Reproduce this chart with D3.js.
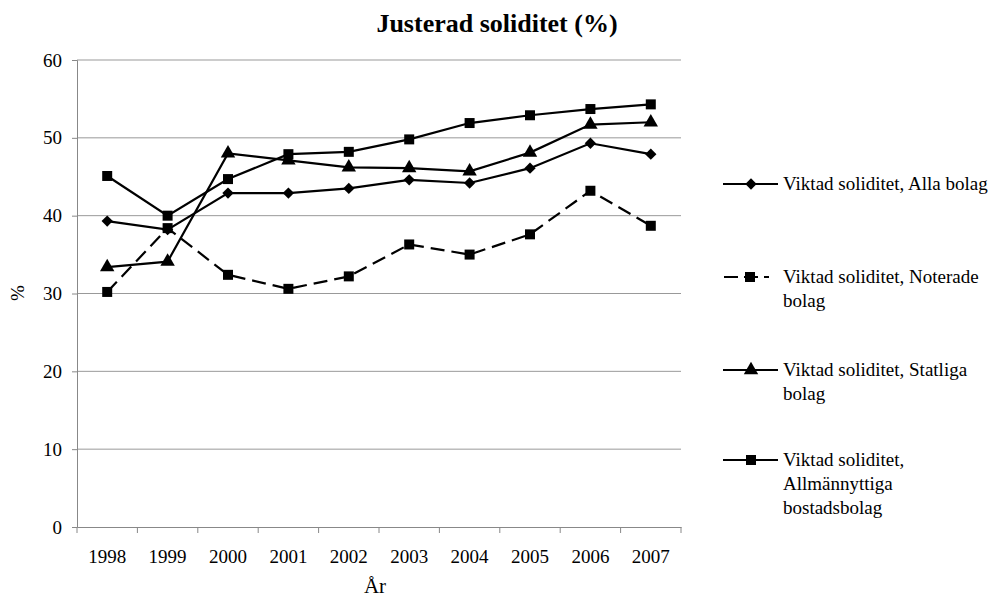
<!DOCTYPE html>
<meta charset="utf-8">
<style>
body { margin: 0; background: #fff; }
svg text { font-family: "Liberation Serif", Tinos, "Times New Roman", Times, serif !important; fill: #000; }
.grid line { stroke: #999; stroke-width: 1; }
.axis path, .axis line { stroke: #888; }
</style>
<body>
<script src="https://d3js.org/d3.v7.min.js"></script>
<script>

// data
var years = ["1998","1999","2000","2001","2002","2003","2004","2005","2006","2007"];
var alla      = [39.3, 38.2, 42.9, 42.9, 43.5, 44.6, 44.2, 46.1, 49.3, 47.9];
var noterade  = [30.2, 38.4, 32.4, 30.6, 32.2, 36.3, 35.0, 37.6, 43.2, 38.7];
var statliga  = [33.4, 34.1, 48.0, 47.1, 46.2, 46.1, 45.7, 48.1, 51.7, 52.0];
var allmanna  = [45.1, 40.0, 44.7, 47.9, 48.2, 49.8, 51.9, 52.9, 53.7, 54.3];
var yTicks = [0, 10, 20, 30, 40, 50, 60];

var series = [
  {name: ["Viktad soliditet, Alla bolag"], values: alla, symbol: "diamond", dash: null, ly: 184},
  {name: ["Viktad soliditet, Noterade", "bolag"], values: noterade, symbol: "square", dash: "14,7", ly: 277},
  {name: ["Viktad soliditet, Statliga", "bolag"], values: statliga, symbol: "triangle", dash: null, ly: 370},
  {name: ["Viktad soliditet,", "Allmännyttiga", "bostadsbolag"], values: allmanna, symbol: "square", dash: null, ly: 460}
];

var margin = {top: 60, right: 310, bottom: 70, left: 77},
    width = 991 - margin.left - margin.right,
    height = 597 - margin.top - margin.bottom;

var svg = d3.select("body").append("svg")
    .attr("width", 991)
    .attr("height", 597);

var g = svg.append("g")
    .attr("transform", "translate(" + margin.left + "," + margin.top + ")");

var x = d3.scaleBand().domain(years).range([0, width]);
var y = d3.scaleLinear().domain([0, 60]).range([height, 0]);

// gridlines
g.append("g").attr("class", "grid")
  .selectAll("line").data(yTicks.filter(function(d) { return d > 0; }))
  .enter().append("line")
    .attr("x1", 0).attr("x2", width)
    .attr("y1", function(d) { return y(d); })
    .attr("y2", function(d) { return y(d); });

// y axis
var yAxis = g.append("g").attr("class", "axis")
  .call(d3.axisLeft(y).tickValues(yTicks).tickSize(5).tickPadding(10));
yAxis.selectAll("text").style("font-size", "19px");

// x axis, ticks between categories
var xAxis = g.append("g").attr("class", "axis")
  .attr("transform", "translate(0," + height + ")")
  .call(d3.axisBottom(x).tickSize(0).tickPadding(23));
xAxis.selectAll("text").style("font-size", "19px");
xAxis.selectAll(".sep").data(d3.range(years.length + 1))
  .enter().append("line")
    .attr("class", "sep")
    .attr("x1", function(i) { return i * x.step(); })
    .attr("x2", function(i) { return i * x.step(); })
    .attr("y1", 0).attr("y2", 6)
    .attr("stroke", "#888");

// diamond = square turned 45 degrees
var symbolType = {diamond: d3.symbolSquare, square: d3.symbolSquare, triangle: d3.symbolTriangle};
var symbolSize = {diamond: 64, square: 100, triangle: 90};
var symbolRot = {diamond: 45, square: 0, triangle: 0};

var line = d3.line()
  .x(function(d, i) { return x(years[i]) + x.bandwidth() / 2; })
  .y(function(d) { return y(d); });

series.forEach(function(s) {
  g.append("path")
    .datum(s.values)
    .attr("fill", "none")
    .attr("stroke", "#000")
    .attr("stroke-width", 2.2)
    .attr("stroke-dasharray", s.dash)
    .attr("d", line);

  g.selectAll(null).data(s.values).enter().append("path")
    .attr("transform", function(d, i) {
      return "translate(" + (x(years[i]) + x.bandwidth() / 2) + "," + y(d) + ") rotate(" + symbolRot[s.symbol] + ")";
    })
    .attr("d", d3.symbol().type(symbolType[s.symbol]).size(symbolSize[s.symbol]));
});

// legend
var leg = svg.append("g");
series.forEach(function(s) {
  var row = leg.append("g").attr("transform", "translate(723," + s.ly + ")");
  row.append("line")
    .attr("x1", s.dash ? 1 : 0).attr("x2", s.dash ? 46 : 55).attr("y1", 0).attr("y2", 0)
    .attr("stroke", "#000").attr("stroke-width", 2.2)
    .attr("stroke-dasharray", s.dash ? "14,6" : null);
  row.append("path")
    .attr("transform", "translate(" + (s.dash ? 27 : 28) + ",0) rotate(" + symbolRot[s.symbol] + ")")
    .attr("d", d3.symbol().type(symbolType[s.symbol]).size(symbolSize[s.symbol]));
  row.selectAll("text").data(s.name).enter().append("text")
    .attr("x", 60)
    .attr("y", function(d, i) { return i * 24 + 6; })
    .style("font-size", "19px")
    .text(function(d) { return d; });
});

// title and axis labels
svg.append("text")
  .attr("x", 497).attr("y", 32)
  .attr("text-anchor", "middle")
  .style("font-size", "26px").style("font-weight", "bold")
  .text("Justerad soliditet (%)");

svg.append("text")
  .attr("x", 375).attr("y", 593)
  .attr("text-anchor", "middle")
  .style("font-size", "21px")
  .text("År");

svg.append("text")
  .attr("transform", "translate(24,293) rotate(-90)")
  .attr("text-anchor", "middle")
  .style("font-size", "19px")
  .text("%");

</script>
</body>
